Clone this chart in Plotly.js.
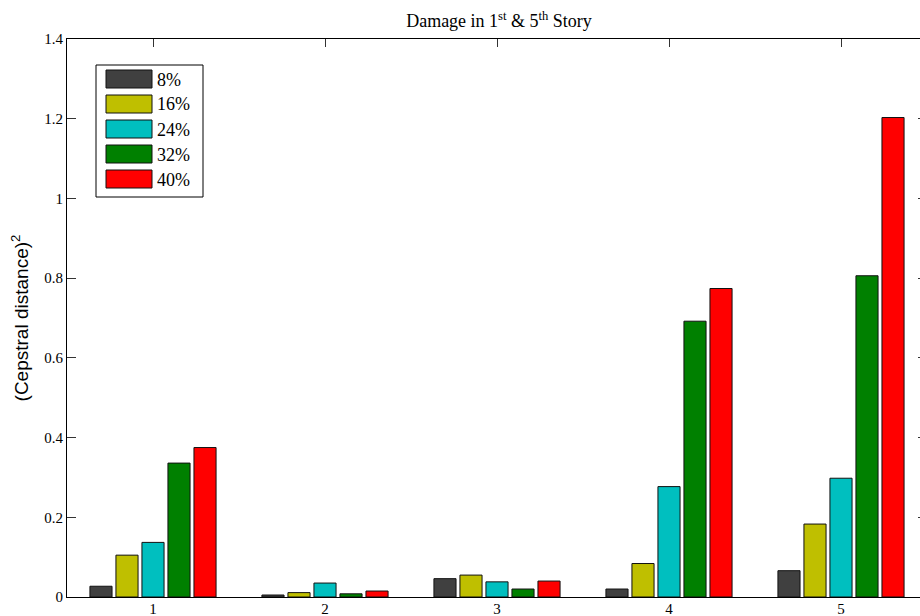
<!DOCTYPE html>
<html>
<head>
<meta charset="utf-8">
<script src="https://cdn.plot.ly/plotly-3.0.1.min.js"></script>
<style>
  html, body { margin: 0; padding: 0; overflow: hidden; background: #fff; }
  #chart { width: 928px; height: 616px; }
</style>
</head>
<body>
<div id="chart"></div>
<script>
// Squared cepstral distance per sensor, for each damage level
const categories = [1, 2, 3, 4, 5];
const seriesNames = ['8%', '16%', '24%', '32%', '40%'];
const seriesColors = ['#404040', '#bfbf00', '#00bfbf', '#008000', '#ff0000'];
const dmg8  = [0.027, 0.005, 0.046, 0.020, 0.066];
const dmg16 = [0.105, 0.011, 0.055, 0.084, 0.183];
const dmg24 = [0.137, 0.035, 0.038, 0.277, 0.298];
const dmg32 = [0.336, 0.008, 0.020, 0.692, 0.806];
const dmg40 = [0.375, 0.015, 0.040, 0.774, 1.203];
const yTicks = [0, 0.2, 0.4, 0.6, 0.8, 1, 1.2, 1.4];
const yTickText = ['0', '0.2', '0.4', '0.6', '0.8', '1', '1.2', '1.4'];

const seriesValues = [dmg8, dmg16, dmg24, dmg32, dmg40];

const W = 928, H = 616;
const M = { l: 67, r: 1, t: 39, b: 19 };
const PW = W - M.l - M.r, PH = H - M.t - M.b;
const px = x => (x - M.l) / PW;          // pixel -> paper x
const py = y => 1 - (y - M.t) / PH;      // pixel -> paper y

const serif = "'Liberation Serif', 'Times New Roman', serif";
const sans = "'Liberation Sans', Arial, sans-serif";

const traces = seriesValues.map((vals, i) => ({
  type: 'bar',
  x: categories,
  y: vals,
  name: seriesNames[i],
  marker: { color: seriesColors[i], line: { color: '#111', width: 1 } },
  showlegend: false,
  hoverinfo: 'x+y+name'
}));

// Boxed legend with wide colour swatches
const shapes = [{
  type: 'rect', xref: 'paper', yref: 'paper',
  x0: px(96), x1: px(203), y0: py(197), y1: py(65),
  line: { color: '#000', width: 1 }, fillcolor: '#fff', layer: 'above'
}];
const annotations = [];
seriesNames.forEach((name, i) => {
  const top = 70 + i * 25;
  shapes.push({
    type: 'rect', xref: 'paper', yref: 'paper',
    x0: px(106), x1: px(152), y0: py(top + 18), y1: py(top),
    line: { color: '#111', width: 1 }, fillcolor: seriesColors[i], layer: 'above'
  });
  annotations.push({
    xref: 'paper', yref: 'paper', x: px(155), y: py(top + 9.5),
    xanchor: 'left', yanchor: 'middle', showarrow: false,
    text: name, font: { family: serif, size: 18, color: '#000' }
  });
});

const layout = {
  width: W, height: H,
  margin: M,
  paper_bgcolor: '#fff', plot_bgcolor: '#fff',
  barmode: 'group',
  bargap: 0.244,
  bargroupgap: 0.15,
  showlegend: false,
  title: {
    text: 'Damage in 1<sup>st</sup> & 5<sup>th</sup> Story',
    x: px(499), xref: 'paper', xanchor: 'center',
    y: 1 - 21 / H, yanchor: 'middle',
    font: { family: serif, size: 18, color: '#000' }
  },
  xaxis: {
    range: [0.5, 5.5],
    tickvals: categories,
    ticktext: categories.map(String),
    ticks: 'inside', ticklen: 8, tickcolor: '#333', tickwidth: 1,
    ticklabelstandoff: -2,
    showline: true, linecolor: '#000', linewidth: 1, mirror: 'ticks',
    showgrid: false, zeroline: false, layer: 'below traces',
    tickfont: { family: serif, size: 15, color: '#000' }
  },
  yaxis: {
    range: [0, 1.4],
    tickvals: yTicks, ticktext: yTickText,
    ticks: 'inside', ticklen: 9, tickcolor: '#333', tickwidth: 1,
    showline: true, linecolor: '#000', linewidth: 1, mirror: 'ticks',
    showgrid: false, zeroline: false,
    tickfont: { family: serif, size: 15, color: '#000' },
    title: {
      text: '(Cepstral distance)<sup>2</sup>',
      standoff: 10,
      font: { family: sans, size: 19, color: '#000' }
    }
  },
  shapes: shapes,
  annotations: annotations
};

Plotly.newPlot('chart', traces, layout, { displayModeBar: false, responsive: false });
</script>
</body>
</html>
